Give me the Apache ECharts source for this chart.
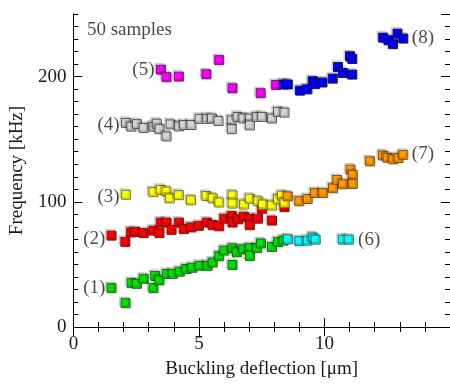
<!DOCTYPE html>
<html><head><meta charset="utf-8">
<script src="https://cdn.jsdelivr.net/npm/echarts@6/dist/echarts.min.js"></script>
<style>html,body{margin:0;padding:0;background:#fff}#c{width:450px;height:384px}</style>
</head><body><div id="c"></div>
<script>
// ---- data (x: buckling deflection [µm], y: frequency [kHz]) ----
const s1 = [[1.52,31],[2.08,19],[2.32,35],[2.53,34.5],[2.80,38.5],[3.19,31],[3.26,40.8],[3.43,37.2],[3.72,42.3],[3.97,42.5],[4.24,44.2],[4.50,46.3],[4.74,47.3],[5.03,48.9],[5.35,48.9],[5.55,51.5],[5.81,56.5],[6.01,61],[6.34,62.8],[6.34,49.5],[6.51,59.6],[6.77,62],[7.03,63],[7.03,56.7],[7.32,63],[7.47,66.7],[7.91,63.8],[8.15,67.7],[8.37,69]];
const s2 = [[1.52,73],[2.07,68],[2.30,75.5],[2.47,76],[2.80,75],[3.19,77],[3.43,75],[3.48,83.4],[3.71,83.4],[3.91,77.6],[4.21,83.4],[4.40,78.2],[4.70,79.5],[5.00,80.8],[5.33,83.4],[5.55,81.3],[5.81,80.4],[6.01,86.5],[6.31,88.6],[6.34,83.4],[6.57,86],[6.80,88.1],[7.03,86.5],[7.03,81.3],[7.35,86.5],[7.52,94.4],[7.91,85],[8.41,95.7]];
const s3 = [[2.10,105.6],[3.19,107.7],[3.48,109.5],[3.71,108.2],[3.84,102.7],[4.20,105.3],[4.69,101.2],[5.30,104.6],[5.55,102.7],[5.81,99.4],[6.34,105.1],[6.34,98.6],[6.80,97.8],[7.03,102.5],[7.36,100.4],[7.55,97.8],[7.91,97],[8.15,102],[8.31,104.9],[8.41,99.2]];
const s4 = [[2.10,163],[2.31,160],[2.53,162],[2.80,159],[3.19,160],[3.32,162.4],[3.43,158],[3.71,152.2],[3.87,161.8],[4.21,160.2],[4.41,161.3],[4.70,161.3],[5.03,166.3],[5.33,166.3],[5.52,166.5],[5.78,164.5],[6.31,165],[6.31,158],[6.54,167.8],[6.77,166.5],[7.03,166.5],[7.03,161],[7.32,167.8],[7.52,167.8],[7.91,166.5],[8.15,171.8],[8.41,171.2]];
const s5 = [[3.49,205.5],[3.71,199.5],[4.20,200],[5.30,201.8],[5.81,213.1],[6.34,190.6],[7.46,186.7],[8.08,193.2]];
const s6 = [[8.54,70],[9.00,68.5],[9.33,69],[9.53,71.5],[9.65,69.8],[10.73,69.8],[10.97,69.8]];
const s7 = [[8.54,104.3],[9.00,100.4],[9.33,102.2],[9.62,106.9],[9.95,106.9],[10.34,110.8],[10.51,117.4],[10.74,114],[11.04,125.7],[11.13,121.3],[11.13,114.3],[11.82,132.3],[12.33,137],[12.51,135.2],[12.74,133.9],[12.95,135],[13.14,137.5]];
const s8 = [[8.39,193.7],[8.54,193.7],[9.03,188.8],[9.32,189.8],[9.53,196.3],[9.63,194],[9.92,195.3],[10.33,198.4],[10.54,207.6],[10.74,202.9],[11.02,216.2],[11.11,214.1],[11.11,201.6],[12.34,231.1],[12.55,229],[12.73,225.9],[12.91,234.3],[13.14,230.4]];
const seriesData = [s1, s2, s3, s4, s5, s6, s7, s8];
const fills = ['#00e000','#ff0000','#ffff00','#d3d3d3','#ff00ff','#00ffff','#ff9900','#0000ff'];
const borders = ['#1a6a1a','#8a1010','#7a7a20','#555555','#701070','#207070','#805010','#101070'];
// group labels (text, x, y in data units)
const groupLabels = ['(1)','(2)','(3)','(4)','(5)','(6)','(7)','(8)'];
const groupLabelX = [0.83, 0.83, 1.40, 1.40, 2.79, 11.78, 13.92, 13.92];
const groupLabelY = [31.1, 70.4, 104.1, 161, 205.6, 69.6, 137.8, 231.1];
const noteText = '50 samples';
const noteX = 0.54, noteY = 237;
const xTitle = 'Buckling deflection [μm]';
const yTitle = 'Frequency [kHz]';

const FONT = 'Liberation Serif';
const txt = {fontFamily: FONT, fontSize: 19, color: '#1a1a1a'};
const line = {show: true, lineStyle: {color: '#000', width: 1}};

const xCommon = {type: 'value', min: 0, max: 15, interval: 5, axisLine: line, splitLine: {show: false},
  axisTick: {inside: true, length: 9, lineStyle: {color: '#000'}},
  minorTick: {show: true, splitNumber: 5, length: 5, lineStyle: {color: '#000'}}};
const yMajor = {type: 'value', min: 0, max: 250, interval: 100, axisLine: line, splitLine: {show: false},
  axisTick: {inside: true, length: 9, lineStyle: {color: '#000'}}};
const yMinor = {type: 'value', min: 0, max: 250, interval: 10, axisLine: line, splitLine: {show: false},
  axisLabel: {show: false}, axisTick: {inside: true, length: 5, lineStyle: {color: '#000'}}};

const series = seriesData.map((d, i) => ({
  type: 'scatter', data: d, symbol: 'rect', symbolSize: 9, xAxisIndex: 0, yAxisIndex: 0,
  itemStyle: {color: fills[i], borderColor: borders[i], borderWidth: 1, opacity: 1,
    shadowColor: 'rgba(0,0,0,0.28)', shadowBlur: 1, shadowOffsetX: -1.5, shadowOffsetY: -1.5},
  emphasis: {disabled: true}, z: 2 + i
}));
series.push({
  type: 'scatter', symbolSize: 0, silent: true, z: 20,
  data: groupLabels.map((t, i) => ({name: t, value: [groupLabelX[i], groupLabelY[i]]})),
  label: Object.assign({show: true, position: 'inside', formatter: p => p.name, align: 'center', verticalAlign: 'middle'}, txt)
});
series.push({
  type: 'scatter', symbolSize: 0, silent: true, z: 20,
  data: [{name: noteText, value: [noteX, noteY]}],
  label: Object.assign({show: true, position: 'inside', formatter: p => p.name, align: 'left', verticalAlign: 'middle'}, txt)
});

const chart = echarts.init(document.getElementById('c'), null, {renderer: 'canvas'});
chart.setOption({
  animation: false,
  grid: {left: 69, right: 0, top: 14, bottom: 51, containLabel: false},
  xAxis: [
    Object.assign({}, xCommon, {position: 'bottom', name: xTitle, nameLocation: 'middle', nameGap: 33,
      nameTextStyle: txt, axisLabel: Object.assign({margin: 8, showMaxLabel: false}, txt)}),
    Object.assign({}, xCommon, {position: 'top', axisLabel: {show: false}})
  ],
  yAxis: [
    Object.assign({}, yMajor, {position: 'left', name: yTitle, nameLocation: 'middle', nameGap: 41,
      nameTextStyle: txt, axisLabel: Object.assign({margin: 7, showMaxLabel: false}, txt)}),
    Object.assign({}, yMinor, {position: 'left'}),
    Object.assign({}, yMajor, {position: 'right', axisLabel: {show: false}}),
    Object.assign({}, yMinor, {position: 'right'})
  ],
  series: series
});
</script></body></html>
